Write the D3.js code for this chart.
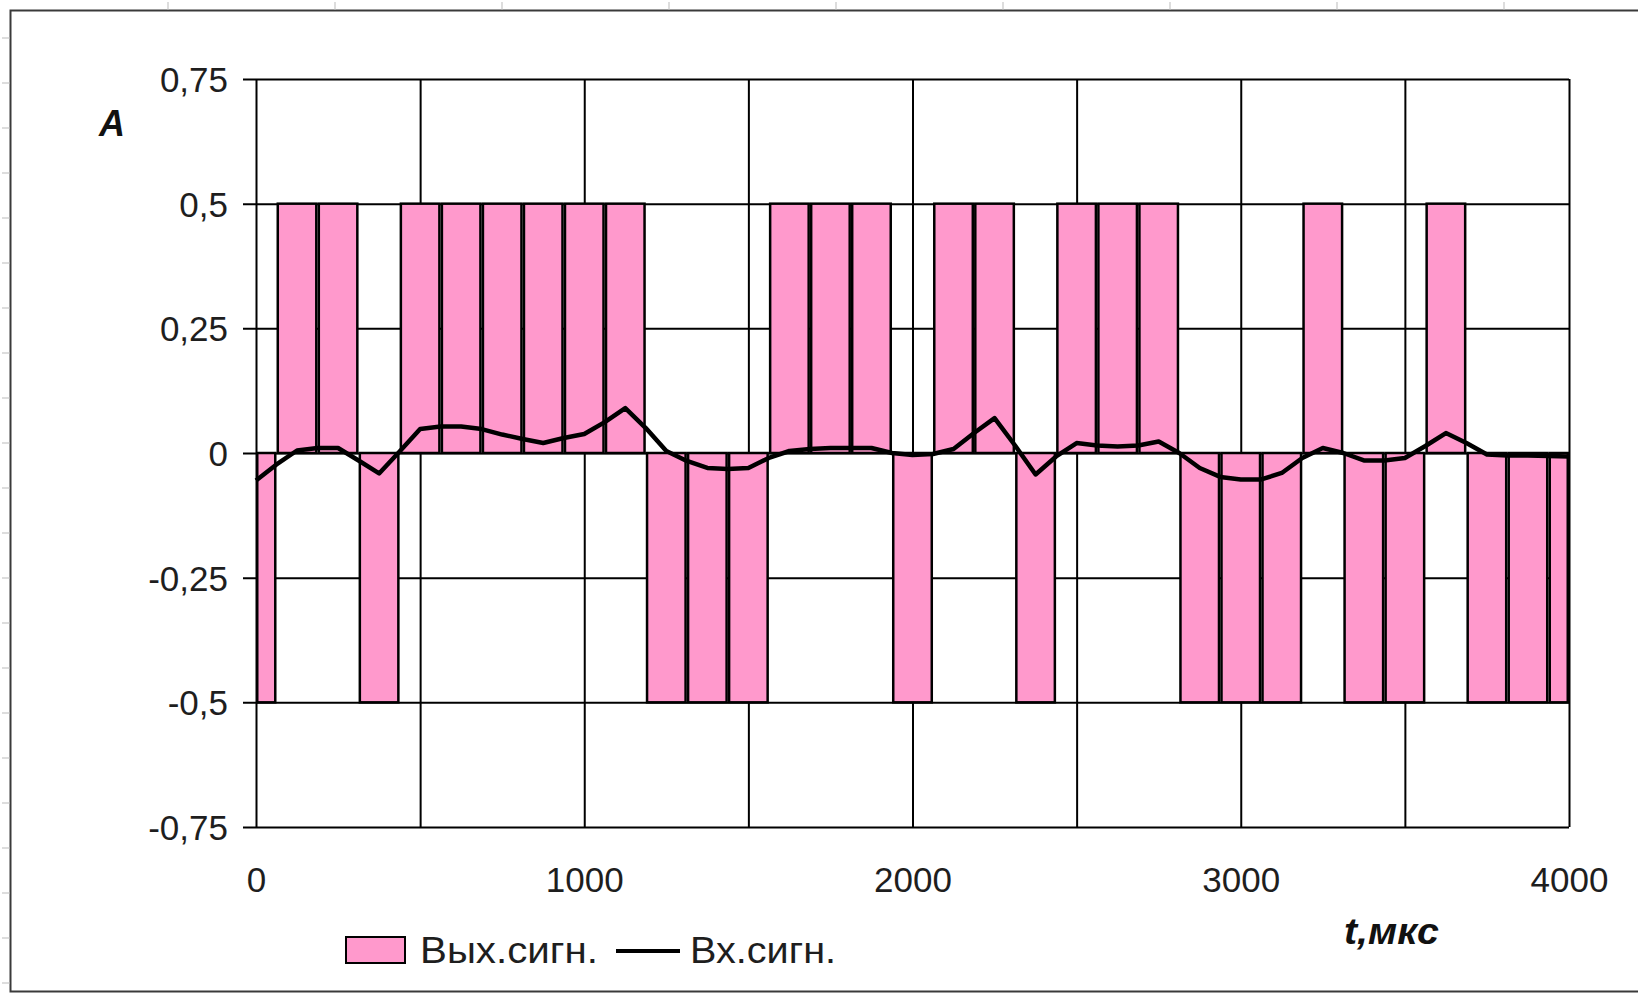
<!DOCTYPE html>
<html>
<head>
<meta charset="utf-8">
<script src="https://cdn.jsdelivr.net/npm/d3@7"></script>
<style>
  html, body { margin: 0; padding: 0; background: #ffffff; }
  svg { display: block; }
</style>
</head>
<body>
<svg id="chart" width="1638" height="997"></svg>
<script>
// ---------------- DATA ----------------
// Output signal (bars): sample times, µs
const outTimes = [0, 125, 250, 375, 500, 625, 750, 875, 1000, 1125, 1250, 1375, 1500, 1625, 1750, 1875,
  2000, 2125, 2250, 2375, 2500, 2625, 2750, 2875, 3000, 3125, 3250, 3375, 3500, 3625, 3750, 3875, 4000];
// Output signal amplitude
const outValues = [-0.5, 0.5, 0.5, -0.5, 0.5, 0.5, 0.5, 0.5, 0.5, 0.5, -0.5, -0.5, -0.5, 0.5, 0.5, 0.5,
  -0.5, 0.5, 0.5, -0.5, 0.5, 0.5, 0.5, -0.5, -0.5, -0.5, 0.5, -0.5, -0.5, 0.5, -0.5, -0.5, -0.5];
// Sample period of the output signal (bar span), µs
const outPeriod = 125;

// Input signal (line): times, µs
const inTimes = [0, 62.5, 125, 187.5, 250, 312.5, 375, 437.5, 500, 562.5, 625, 687.5, 750, 812.5, 875, 937.5,
  1000, 1062.5, 1125, 1187.5, 1250, 1312.5, 1375, 1437.5, 1500, 1562.5, 1625, 1687.5, 1750, 1812.5, 1875, 1937.5,
  2000, 2062.5, 2125, 2187.5, 2250, 2312.5, 2375, 2437.5, 2500, 2562.5, 2625, 2687.5, 2750, 2812.5, 2875, 2937.5,
  3000, 3062.5, 3125, 3187.5, 3250, 3312.5, 3375, 3437.5, 3500, 3562.5, 3625, 3687.5, 3750, 3812.5, 3875, 3937.5, 4000];
// Input signal amplitude
const inValues = [-0.055, -0.023, 0.005, 0.010, 0.010, -0.015, -0.041, 0.003, 0.048, 0.053, 0.053, 0.048, 0.037, 0.028, 0.020, 0.030,
  0.038, 0.062, 0.090, 0.050, 0.004, -0.016, -0.030, -0.032, -0.030, -0.010, 0.004, 0.008, 0.010, 0.010, 0.010, 0.000,
  -0.004, -0.002, 0.008, 0.040, 0.070, 0.015, -0.043, -0.007, 0.020, 0.015, 0.013, 0.015, 0.023, 0.000, -0.030, -0.048,
  -0.053, -0.053, -0.040, -0.010, 0.010, 0.000, -0.015, -0.015, -0.010, 0.014, 0.040, 0.020, -0.003, -0.005, -0.005, -0.006, -0.007];

// Axis ticks
const xTicks = [0, 1000, 2000, 3000, 4000];
const xGrid = [0, 500, 1000, 1500, 2000, 2500, 3000, 3500, 4000];
const yTicks = [0.75, 0.5, 0.25, 0, -0.25, -0.5, -0.75];

// Texts
const yAxisTitle = "A";
const xAxisTitle = "t,мкс";
const legendNames = ["Вых.сигн.", "Вх.сигн."];

// ---------------- LAYOUT ----------------
const W = 1638, H = 997;
const plot = { left: 256, right: 1569, top: 79, bottom: 827 };
const FONT = "'Liberation Sans', Arial, sans-serif";
const PINK = "#ff99cc";

const svg = d3.select("#chart");
svg.append("rect").attr("width", W).attr("height", H).attr("fill", "#fff");

// Outer frame (page-like border)
svg.append("path")
  .attr("d", `M${W},10.5 H10.5 V${H - 5.5} H${W}`)
  .attr("fill", "none").attr("stroke", "#3a3a3a").attr("stroke-width", 2);

// faint ruler-like tick marks around the frame
const topMarks = d3.range(168, W, 167);
svg.append("g").selectAll("line").data(topMarks).join("line")
  .attr("x1", d => d).attr("x2", d => d).attr("y1", 2).attr("y2", 10)
  .attr("stroke", "#bbb").attr("stroke-width", 1);
const leftMarks = d3.range(38, H - 10, 45);
svg.append("g").selectAll("line").data(leftMarks).join("line")
  .attr("x1", 2).attr("x2", 10).attr("y1", d => d).attr("y2", d => d)
  .attr("stroke", "#bbb").attr("stroke-width", 1);

const x = d3.scaleLinear().domain([0, 4000]).range([plot.left, plot.right]);
const y = d3.scaleLinear().domain([-0.75, 0.75]).range([plot.bottom, plot.top]);

const fmt = d => String(d).replace(".", ",");

// Horizontal gridlines (with outside tick extension)
const yAxis = d3.axisLeft(y).tickValues(yTicks).tickFormat(fmt)
  .tickSizeInner(-(plot.right - plot.left)).tickSizeOuter(0).tickPadding(0);
const gy = svg.append("g").attr("transform", `translate(${plot.left},0)`).call(yAxis);
gy.select(".domain").remove();
gy.selectAll(".tick line")
  .attr("x1", -13)
  .attr("stroke", "#000").attr("stroke-width", 2);
gy.selectAll(".tick text")
  .attr("x", -28)
  .attr("dy", "0.36em")
  .attr("font-family", FONT).attr("font-size", 35).attr("fill", "#1e1e1e");

// Vertical gridlines
const xGridAxis = d3.axisBottom(x).tickValues(xGrid).tickFormat("")
  .tickSizeInner(-(plot.bottom - plot.top)).tickSizeOuter(0);
const gxg = svg.append("g").attr("transform", `translate(0,${plot.bottom})`).call(xGridAxis);
gxg.select(".domain").remove();
gxg.selectAll(".tick line").attr("stroke", "#000").attr("stroke-width", 2);

// X tick labels
const xAxis = d3.axisBottom(x).tickValues(xTicks).tickFormat(d => String(d))
  .tickSize(0).tickPadding(0);
const gx = svg.append("g").attr("transform", `translate(0,${plot.bottom})`).call(xAxis);
gx.select(".domain").remove();
gx.selectAll(".tick text")
  .attr("y", 52).attr("dy", "0.36em")
  .attr("font-family", FONT).attr("font-size", 35).attr("fill", "#1e1e1e");

// Bars (output signal)
const bars = outTimes.map((t, i) => ({
  t0: Math.max(0, t - outPeriod / 2),
  t1: Math.min(4000, t + outPeriod / 2),
  v: outValues[i]
}));
svg.append("g").selectAll("rect").data(bars).join("rect")
  .attr("x", d => x(d.t0) + 1.25)
  .attr("width", d => x(d.t1) - x(d.t0) - 2.5)
  .attr("y", d => y(Math.max(0, d.v)))
  .attr("height", d => Math.abs(y(d.v) - y(0)))
  .attr("fill", PINK).attr("stroke", "#000").attr("stroke-width", 2.5);

// Line (input signal)
const line = d3.line().x((d, i) => x(inTimes[i])).y(d => y(d));
svg.append("path").datum(inValues)
  .attr("d", line)
  .attr("fill", "none").attr("stroke", "#000").attr("stroke-width", 4.5)
  .attr("stroke-linejoin", "round");

// Axis titles
svg.append("text").attr("x", 112).attr("y", 136).attr("text-anchor", "middle")
  .attr("font-family", FONT).attr("font-size", 36).attr("font-weight", "bold").attr("font-style", "italic")
  .attr("fill", "#111").text(yAxisTitle);
svg.append("text").attr("x", 1344).attr("y", 944)
  .attr("font-family", FONT).attr("font-size", 36).attr("font-weight", "bold").attr("font-style", "italic")
  .attr("textLength", 95).attr("lengthAdjust", "spacingAndGlyphs")
  .attr("fill", "#111").text(xAxisTitle);

// Legend
const lg = svg.append("g");
lg.append("rect").attr("x", 346).attr("y", 937).attr("width", 59).attr("height", 26)
  .attr("fill", PINK).attr("stroke", "#000").attr("stroke-width", 2);
lg.append("text").attr("x", 420).attr("y", 963)
  .attr("font-family", FONT).attr("font-size", 37).attr("fill", "#1e1e1e")
  .attr("textLength", 178).attr("lengthAdjust", "spacingAndGlyphs").text(legendNames[0]);
lg.append("line").attr("x1", 616).attr("x2", 680).attr("y1", 951).attr("y2", 951)
  .attr("stroke", "#000").attr("stroke-width", 4);
lg.append("text").attr("x", 690).attr("y", 963)
  .attr("font-family", FONT).attr("font-size", 37).attr("fill", "#1e1e1e")
  .attr("textLength", 146).attr("lengthAdjust", "spacingAndGlyphs").text(legendNames[1]);
</script>
</body>
</html>
